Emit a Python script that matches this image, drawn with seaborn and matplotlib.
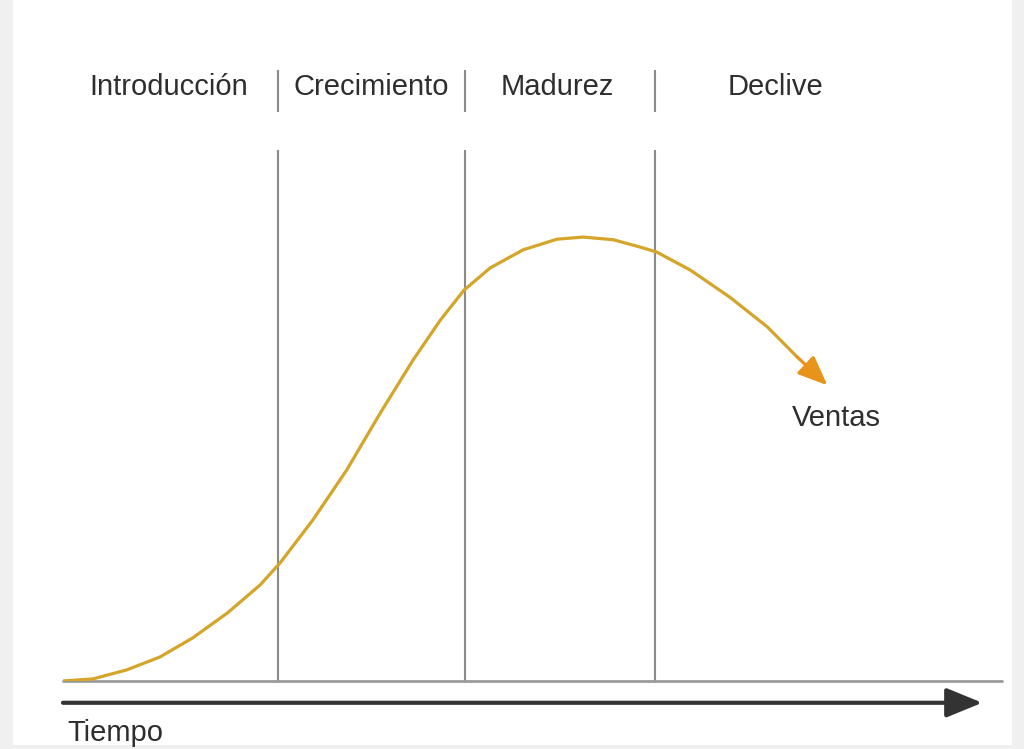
import matplotlib
matplotlib.use("Agg")
import matplotlib.pyplot as plt
from matplotlib.patches import Rectangle
import pandas as pd
import seaborn as sns

# curve: time (0-100) vs sales (0-100)
tiempo = [0.0, 3.2, 6.8, 10.3, 13.8, 17.5, 21.0, 23.1, 26.6, 30.2, 33.8, 37.3,
          40.2, 42.7, 45.5, 49.0, 52.6, 55.4, 58.6, 61.5, 63.2, 66.8, 71.0,
          75.0, 78.2]
ventas = [0.0, 0.4, 2.1, 4.5, 8.1, 12.8, 18.1, 22.2, 30.3, 39.7, 50.5, 60.5,
          68.0, 73.6, 77.8, 81.2, 83.2, 83.6, 83.1, 81.7, 80.8, 77.4, 72.3,
          66.7, 61.0]
punta = (81.4, 55.7)  # arrow tip of the sales curve

etapas = ["Introducción", "Crecimiento", "Madurez", "Declive"]
centros = [11.3, 32.8, 52.6, 75.9]
cortes = [22.9, 42.8, 63.0]

sns.set_style("white")
plt.rcParams["font.family"] = ["Liberation Sans", "DejaVu Sans"]

fig = plt.figure(figsize=(10.24, 7.49), dpi=100, facecolor="#f0f0f0")
fig.patches.append(Rectangle((13 / 1024, 4 / 749), 999 / 1024, 745 / 749,
                             transform=fig.transFigure, facecolor="white",
                             edgecolor="none", zorder=-5))

ax = fig.add_axes([63 / 1024, 68 / 749, 939 / 1024, 531 / 749])
ax.set_facecolor("none")
ax.set_xlim(0, 100)
ax.set_ylim(0, 100)
ax.axis("off")

texto = "#2e2e2e"
gris = "#8a8a8a"

# stage separators
ax.vlines(cortes, 0, 100, color=gris, lw=1.5)
ax.vlines(cortes, 107.2, 115.1, color=gris, lw=1.5, clip_on=False)
for nombre, c in zip(etapas, centros):
    ax.text(c, 111.8, nombre, ha="center", va="center", fontsize=21,
            color=texto, clip_on=False)

# baseline
ax.plot([0, 100], [0, 0], color="#9a9a9a", lw=2, clip_on=False, zorder=2)

# sales curve
df = pd.DataFrame({"tiempo": tiempo, "ventas": ventas})
sns.lineplot(data=df, x="tiempo", y="ventas", ax=ax, color="#d4a529", lw=2.3,
             sort=False, zorder=3, solid_joinstyle="round",
             solid_capstyle="round")
ax.annotate("", xy=punta, xytext=(tiempo[-1], ventas[-1]),
            arrowprops=dict(arrowstyle="-|>,head_length=1.8,head_width=0.75",
                            color="#e8941a", lw=2.3, shrinkA=0, shrinkB=0),
            zorder=4)
ax.text(82.4, 49.6, "Ventas", ha="center", va="center", fontsize=21,
        color=texto)

# time arrow
ax.annotate("", xy=(97.9, -4.1), xytext=(0, -4.1), annotation_clip=False,
            arrowprops=dict(arrowstyle="-|>,head_length=2.2,head_width=0.9",
                            color="#333333", lw=3, shrinkA=0, shrinkB=0))
ax.text(0.5, -9.7, "Tiempo", ha="left", va="center", fontsize=21,
        color=texto, clip_on=False)

fig.savefig("out.png", dpi=100, facecolor=fig.get_facecolor())
